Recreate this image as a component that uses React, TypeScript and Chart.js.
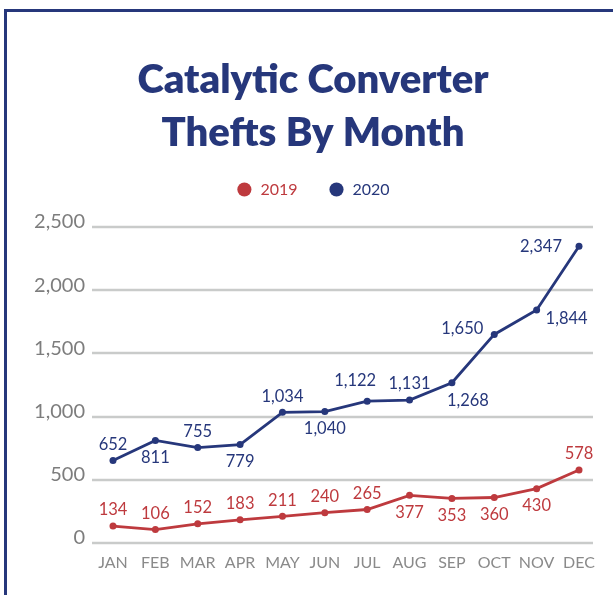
import React, { useEffect, useRef } from 'react';
import { Chart, registerables } from 'chart.js';

Chart.register(...registerables);

const months = ['JAN', 'FEB', 'MAR', 'APR', 'MAY', 'JUN', 'JUL', 'AUG', 'SEP', 'OCT', 'NOV', 'DEC'];
const thefts2019 = [134, 106, 152, 183, 211, 240, 265, 377, 353, 360, 430, 578];
const thefts2020 = [652, 811, 755, 779, 1034, 1040, 1122, 1131, 1268, 1650, 1844, 2347];
const yTickValues = [0, 500, 1000, 1500, 2000, 2500];
const labelPos2019 = ['above', 'above', 'above', 'above', 'above', 'above', 'above', 'below', 'below', 'below', 'below', 'above'];
const labelPos2020 = ['above', 'below', 'above', 'below', 'above', 'below', 'above-left', 'above', 'below-right', 'left-up', 'right-down', 'left'];

const RED = '#be3a3e';
const BLUE = '#26377b';
const FONT = 'Lato, "Noto Sans", sans-serif';

const placementOffsets: Record<string, [number, number]> = {
  above: [0, -16],
  below: [0, 17],
  'above-left': [-12, -21],
  'below-right': [16, 18],
  'left-up': [-32, -6],
  'right-down': [30, 9],
  left: [-38, 0],
};

const gridPlugin = {
  id: 'customGrid',
  beforeDatasetsDraw(chart: any) {
    const { ctx, chartArea, scales } = chart;
    const y = scales.y;
    ctx.save();
    ctx.strokeStyle = '#c9cbca';
    ctx.lineWidth = 2.5;
    yTickValues.forEach((v) => {
      const py = Math.round(y.getPixelForValue(v));
      ctx.beginPath();
      ctx.moveTo(chartArea.left - 21, py);
      ctx.lineTo(chartArea.right + 14, py);
      ctx.stroke();
    });
    ctx.restore();
  },
};

const dataLabelPlugin = {
  id: 'dataLabels',
  afterDatasetsDraw(chart: any) {
    const { ctx } = chart;
    ctx.save();
    ctx.font = `16.5px ${FONT}`;
    ctx.textAlign = 'center';
    ctx.textBaseline = 'middle';
    chart.data.datasets.forEach((ds: any, di: number) => {
      const meta = chart.getDatasetMeta(di);
      const positions = di === 0 ? labelPos2019 : labelPos2020;
      ctx.fillStyle = ds.borderColor;
      meta.data.forEach((pt: any, i: number) => {
        const [dx, dy] = placementOffsets[positions[i]] || [0, -16];
        const text = Number(ds.data[i]).toLocaleString('en-US');
        ctx.fillText(text, pt.x + dx, pt.y + dy);
      });
    });
    ctx.restore();
  },
};

const legendSpacerPlugin = {
  id: 'legendSpacer',
  beforeLayout(chart: any) {
    const lg = chart.legend;
    if (lg && !lg.__patched) {
      const orig = lg.fit;
      lg.fit = function () {
        orig.call(this);
        this.height += 19.5;
      };
      lg.__patched = true;
    }
  },
};

export default function App() {
  const canvasRef = useRef<HTMLCanvasElement | null>(null);

  useEffect(() => {
    if (!canvasRef.current) return;
    const chart = new Chart(canvasRef.current, {
      type: 'line',
      data: {
        labels: months,
        datasets: [
          {
            label: '2019',
            data: thefts2019,
            borderColor: RED,
            backgroundColor: RED,
            borderWidth: 2.8,
            pointRadius: 3.5,
            pointBackgroundColor: RED,
            pointBorderWidth: 0,
            tension: 0,
            yAxisID: 'y',
          },
          {
            label: '2020',
            data: thefts2020,
            borderColor: BLUE,
            backgroundColor: BLUE,
            borderWidth: 2.8,
            pointRadius: 3.5,
            pointBackgroundColor: BLUE,
            pointBorderWidth: 0,
            tension: 0,
            yAxisID: 'y',
          },
        ],
      },
      options: {
        responsive: false,
        animation: false,
        devicePixelRatio: 1,
        layout: { padding: { top: 0, left: 20, right: 7, bottom: 24 } },
        plugins: {
          tooltip: { enabled: false },
          title: {
            display: true,
            text: ['Catalytic Converter', 'Thefts By Month'],
            color: BLUE,
            font: { family: FONT, size: 40, weight: '800', lineHeight: 1.31 },
            padding: { top: 54, bottom: -8.3 },
          },
          legend: {
            display: true,
            position: 'top',
            labels: {
              usePointStyle: true,
              pointStyle: 'circle',
              boxWidth: 16,
              boxHeight: 10,
              padding: 31,
              font: { family: FONT, size: 16 },
              generateLabels: (c: any) =>
                c.data.datasets.map((ds: any, i: number) => ({
                  text: ds.label,
                  fillStyle: ds.borderColor,
                  strokeStyle: ds.borderColor,
                  fontColor: ds.borderColor,
                  lineWidth: 0,
                  pointStyle: 'circle',
                  hidden: false,
                  datasetIndex: i,
                })),
            },
          },
        },
        scales: {
          x: {
            type: 'category',
            offset: false,
            grid: { display: false, drawTicks: false },
            border: { display: false },
            afterFit: (scale: any) => {
              scale.height = 28;
            },
            ticks: {
              color: '#8a8a8a',
              font: { family: FONT, size: 16 },
              padding: 10,
              maxRotation: 0,
              autoSkip: false,
            },
          },
          y: {
            type: 'linear',
            position: 'left',
            min: 0,
            max: 2500,
            grid: { display: false, drawTicks: false },
            border: { display: false },
            afterFit: (scale: any) => {
              scale.width = 93;
            },
            ticks: {
              stepSize: 500,
              color: '#7d7d7d',
              font: { family: FONT, size: 20, weight: 'normal' },
              padding: 28,
              labelOffset: -5,
              callback: (v: any) => Number(v).toLocaleString('en-US'),
            },
          },
          yRightSpace: {
            type: 'linear',
            position: 'right',
            display: true,
            grid: { display: false, drawTicks: false },
            border: { display: false },
            ticks: { display: false },
            afterFit: (scale: any) => {
              scale.width = 27;
            },
          },
        },
      },
      plugins: [gridPlugin, dataLabelPlugin, legendSpacerPlugin],
    } as any);
    return () => chart.destroy();
  }, []);

  return (
    <div style={{ position: 'fixed', left: 0, top: 0, width: 613, height: 595, background: '#fff', overflow: 'hidden' }}>
      <div
        style={{
          position: 'absolute',
          left: 4,
          top: 9,
          width: 640,
          height: 620,
          borderLeft: `3px solid ${BLUE}`,
          borderTop: `3px solid ${BLUE}`,
          boxSizing: 'border-box',
        }}
      />
      <canvas ref={canvasRef} width={613} height={595} style={{ position: 'absolute', left: 0, top: 0 }} />
    </div>
  );
}
